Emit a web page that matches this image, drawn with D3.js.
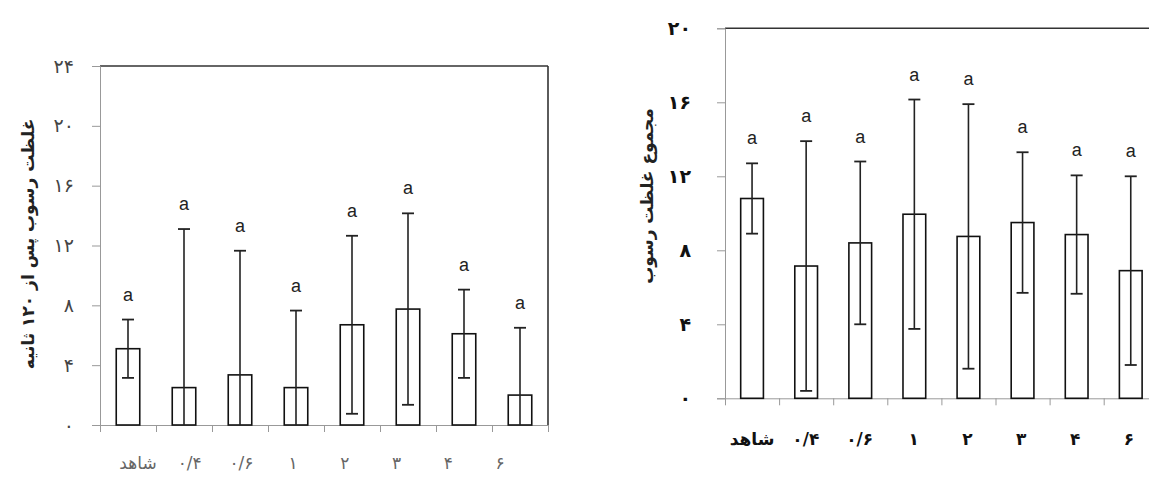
<!DOCTYPE html>
<html>
<head>
<meta charset="utf-8">
<script src="https://cdn.jsdelivr.net/npm/d3@7"></script>
<style>
  body { margin: 0; background: #fff; }
  svg { display: block; }
</style>
</head>
<body>
<svg id="chart" width="1149" height="478"></svg>
<script>
// treatments (same for both panels)
const categories = ['شاهد', '۰/۴', '۰/۶', '۱', '۲', '۳', '۴', '۶'];

// left panel: concentration after 120 s
const leftMeans = [5.1, 2.5, 3.35, 2.5, 6.7, 7.75, 6.1, 2.0];
const leftErr = [1.95, 10.6, 8.3, 5.15, 5.95, 6.4, 2.95, 4.5];
const leftLetters = ['a', 'a', 'a', 'a', 'a', 'a', 'a', 'a'];
const leftTicks = [0, 4, 8, 12, 16, 20, 24];
const leftTitle = 'غلظت رسوب پس از ۱۲۰ ثانیه';

// right panel: total sediment concentration
const rightMeans = [10.8, 7.15, 8.4, 9.95, 8.75, 9.5, 8.85, 6.9];
const rightErr = [1.9, 6.75, 4.4, 6.2, 7.15, 3.8, 3.2, 5.1];
const rightLetters = ['a', 'a', 'a', 'a', 'a', 'a', 'a', 'a'];
const rightTicks = [0, 4, 8, 12, 16, 20];
const rightTitle = 'مجموع غلظت رسوب';

const faDigits = '۰۱۲۳۴۵۶۷۸۹';
const toFa = n => String(n).replace(/\d/g, d => faDigits[d]);

const svg = d3.select('#chart');
svg.append('rect').attr('width', 1149).attr('height', 478).attr('fill', '#fff');

function drawPanel(opt) {
  const g = svg.append('g');
  const x = d3.scaleBand().domain(d3.range(categories.length)).range([opt.left, opt.left + opt.step * categories.length]).padding(0);
  const xi = d3.scaleLinear().domain([0, categories.length]).range(x.range());
  // the category labels sit on their own, slightly narrower spread
  const xl = d3.scalePoint().domain(d3.range(categories.length)).range(opt.labelRange);
  const y = d3.scaleLinear().domain([0, opt.max]).range([opt.bottom, opt.top]);
  const bw = x.bandwidth() * 0.42;

  // frame lines
  g.append('line')
    .attr('x1', opt.left).attr('x2', opt.frameRight)
    .attr('y1', y(opt.max)).attr('y2', y(opt.max))
    .attr('stroke', '#333').attr('stroke-width', 1.6);
  if (opt.rightBorder) {
    g.append('line')
      .attr('x1', opt.frameRight).attr('x2', opt.frameRight)
      .attr('y1', y(opt.max)).attr('y2', y(0))
      .attr('stroke', '#333').attr('stroke-width', 1.6);
  }

  // y axis
  const ya = g.append('g')
    .attr('transform', `translate(${opt.left},0)`)
    .call(d3.axisLeft(y).tickValues(opt.ticks).tickSize(8).tickFormat(toFa));
  ya.select('.domain').attr('stroke', '#999');
  ya.selectAll('.tick line').attr('stroke', '#999');
  ya.selectAll('.tick text')
    .attr('x', opt.tickLabelX)
    .attr('font-family', 'DejaVu Sans')
    .attr('font-size', 19)
    .attr('font-weight', opt.bold ? 'bold' : 'normal')
    .attr('fill', opt.tickColor);

  // x axis with boundary ticks
  const xa = g.append('g')
    .attr('transform', `translate(0,${y(0)})`)
    .call(d3.axisBottom(xi).tickValues(d3.range(categories.length + 1)).tickSize(7).tickFormat('').tickSizeOuter(0));
  xa.select('.domain').attr('stroke', '#999');
  xa.selectAll('.tick line').attr('stroke', '#999');

  // category labels
  g.selectAll('.cat').data(categories).join('text')
    .attr('class', 'cat')
    .attr('x', (d, i) => xl(i))
    .attr('y', opt.labelY)
    .attr('text-anchor', 'middle')
    .attr('dominant-baseline', 'central')
    .attr('font-family', 'DejaVu Sans')
    .attr('font-size', opt.labelSize)
    .attr('font-weight', opt.bold ? 'bold' : 'normal')
    .attr('fill', opt.labelColor)
    .text(d => d);

  // bars
  g.selectAll('.bar').data(opt.means).join('rect')
    .attr('class', 'bar')
    .attr('x', (d, i) => x(i) + (x.bandwidth() - bw) / 2)
    .attr('y', d => y(d))
    .attr('width', bw)
    .attr('height', d => y(0) - y(d))
    .attr('fill', '#fff')
    .attr('stroke', '#111')
    .attr('stroke-width', 1.6);

  // error bars
  const cap = 6;
  opt.means.forEach((m, i) => {
    const cx = x(i) + x.bandwidth() / 2;
    const hi = m + opt.err[i];
    const lo = Math.max(0, m - opt.err[i]);
    g.append('line').attr('x1', cx).attr('x2', cx).attr('y1', y(hi)).attr('y2', y(lo))
      .attr('stroke', '#222').attr('stroke-width', 1.6);
    g.append('line').attr('x1', cx - cap).attr('x2', cx + cap).attr('y1', y(hi)).attr('y2', y(hi))
      .attr('stroke', '#222').attr('stroke-width', 1.8);
    if (m - opt.err[i] > 0) {
      g.append('line').attr('x1', cx - cap).attr('x2', cx + cap).attr('y1', y(lo)).attr('y2', y(lo))
        .attr('stroke', '#222').attr('stroke-width', 1.8);
    }
    g.append('text')
      .attr('x', cx).attr('y', y(hi) - 19)
      .attr('text-anchor', 'middle')
      .attr('font-family', 'Liberation Sans, Arial, sans-serif')
      .attr('font-size', 18)
      .attr('fill', '#222')
      .text(opt.letters[i]);
  });

  // y title
  g.append('text')
    .attr('transform', `translate(${opt.titleX},${opt.titleY}) rotate(-90)`)
    .attr('text-anchor', 'middle')
    .attr('dominant-baseline', 'central')
    .attr('font-family', 'DejaVu Sans')
    .attr('font-size', opt.titleSize)
    .attr('font-weight', 'bold')
    .attr('fill', '#222')
    .text(opt.title);
}

drawPanel({
  left: 100, step: 56, top: 66, bottom: 425, max: 24, frameRight: 548, rightBorder: true,
  means: leftMeans, err: leftErr, letters: leftLetters, ticks: leftTicks, tickLabelX: -26,
  labelY: 463, labelRange: [138, 500], labelColor: '#666', tickColor: '#444', labelSize: 17, bold: false,
  title: leftTitle, titleX: 28, titleY: 244, titleSize: 17
});

drawPanel({
  left: 725, step: 54.1, top: 28.3, bottom: 398.3, max: 20, frameRight: 1149, rightBorder: false,
  means: rightMeans, err: rightErr, letters: rightLetters, ticks: rightTicks, tickLabelX: -34,
  labelY: 439, labelRange: [752, 1129], labelColor: '#111', tickColor: '#111', labelSize: 17, bold: true,
  title: rightTitle, titleX: 647, titleY: 196, titleSize: 17
});
</script>
</body>
</html>
